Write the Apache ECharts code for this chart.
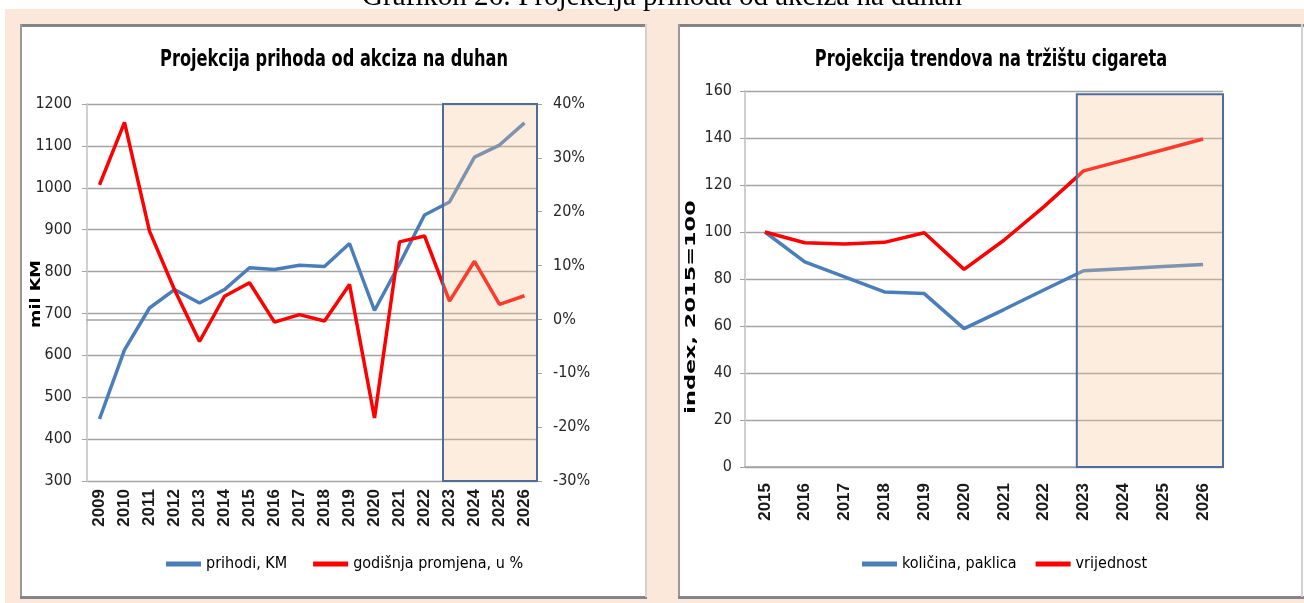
<!DOCTYPE html>
<html><head><meta charset="utf-8">
<script src="https://cdn.jsdelivr.net/npm/echarts@6/dist/echarts.min.js"></script>
<style>html,body{margin:0;padding:0;background:#fff;}#c{width:1304px;height:603px;}</style>
</head><body><div id="c"></div>
<script>
// ---- data ----
const years1 = ['2009','2010','2011','2012','2013','2014','2015','2016','2017','2018','2019','2020','2021','2022','2023','2024','2025','2026'];
const prihodi = [448, 613, 713, 757, 725, 757, 809, 805, 815, 812, 867, 707, 818, 935, 966, 1073, 1102, 1155];
const promjena = [25, 36.6, 16.4, 5.5, -4.1, 4.3, 6.8, -0.5, 0.9, -0.3, 6.5, -18.3, 14.4, 15.5, 3.4, 10.8, 2.8, 4.4];
const years2 = ['2015','2016','2017','2018','2019','2020','2021','2022','2023','2024','2025','2026'];
const kolicina = [100, 87.3, 80.9, 74.5, 73.8, 58.9, 67, 75.3, 83.5, 84.4, 85.3, 86.2];
const vrijednost = [100, 95.4, 94.9, 95.6, 99.7, 84.1, 96.5, 110.7, 126, 130.5, 135, 139.6];
const projectionStart = '2023';
const leftAxis = {min: 300, max: 1200, interval: 100};
const pctAxis = {min: -30, max: 40, interval: 10};
const idxAxis = {min: 0, max: 160, interval: 20};
const names1 = ['prihodi, KM', 'godišnja promjena, u %'];
const names2 = ['količina, paklica', 'vrijednost'];
const title1 = 'Projekcija prihoda od akciza na duhan';
const title2 = 'Projekcija trendova na tržištu cigareta';
const pageTitle = 'Grafikon 26: Projekcija prihoda od akciza na duhan';

// ---- style ----
const FN = "'Liberation Sans Narrow','DejaVu Sans Condensed','Arial Narrow',sans-serif";
const FS = "'Liberation Sans',Arial,sans-serif";
const gridC = '#A3A3A3';
const blue = '#4A7EBB', red = '#FF0000';
const shade = {color: 'rgba(246,196,150,0.3)', borderColor: '#4F6D9B', borderWidth: 2};

const chart = echarts.init(document.getElementById('c'), null, {renderer: 'canvas'});

function catAxis(grid, data, margin) {
  return {type: 'category', gridIndex: grid, data: data, boundaryGap: true,
    axisLine: {lineStyle: {color: gridC, width: 1.5}},
    axisTick: {length: 7, lineStyle: {color: gridC, width: 1.5}},
    axisLabel: {rotate: 90, margin: margin, interval: 0, fontFamily: FS, fontSize: 17, fontWeight: 'bold', color: '#1a1a1a'}};
}
function valAxis(grid, r, pos, margin, suffix) {
  return {type: 'value', gridIndex: grid, position: pos, min: r.min, max: r.max, interval: r.interval,
    axisLine: {show: true, lineStyle: {color: '#CFCFCF', width: 2}},
    axisTick: {show: true, length: 5, lineStyle: {color: gridC}},
    splitLine: {show: pos === 'left', lineStyle: {color: gridC, width: 1.3}},
    axisLabel: {margin: margin, fontFamily: FN, fontSize: 16, color: '#262626',
      formatter: function (v) { return String(v) + (suffix || ''); }}};
}
function lineSeries(name, xi, yi, data, color) {
  return {name: name, type: 'line', xAxisIndex: xi, yAxisIndex: yi, data: data, symbol: 'none',
    lineStyle: {color: color, width: 3.5}, itemStyle: {color: color}, z: 3};
}
function shadeSeries(xi, yi, start, top, bottom) {
  return {type: 'line', xAxisIndex: xi, yAxisIndex: yi, data: [], silent: true, z: 8,
    markArea: {silent: true, z: 8, itemStyle: shade,
      data: [[{xAxis: start, yAxis: bottom}, {xAxis: 'max', yAxis: top}]]}};
}
function titleText(text, x) {
  return {type: 'text', z: 50, x: x, y: 60, scaleY: 1.3,
    style: {text: text, textAlign: 'center', textVerticalAlign: 'middle',
      font: "bold 18px 'DejaVu Sans Condensed', sans-serif", fill: '#000'}};
}

const lg = {fontFamily: FN, fontSize: 16, color: '#000'};
const option = {
  animation: false,
  textStyle: {fontFamily: FN},
  legend: [
    {data: names1, left: 161, top: 551, icon: 'rect', itemWidth: 35, itemHeight: 5, itemGap: 26, textStyle: lg},
    {data: names2, left: 857, top: 551, icon: 'rect', itemWidth: 35, itemHeight: 5, itemGap: 19, textStyle: lg}
  ],
  grid: [
    {left: 87, top: 104, width: 450, height: 377},
    {left: 745, top: 91, width: 478, height: 376}
  ],
  xAxis: [
    catAxis(0, years1, 8),
    {type: 'value', gridIndex: 0, min: 0, max: years1.length, show: false},
    catAxis(1, years2, 16),
    {type: 'value', gridIndex: 1, min: 0, max: years2.length, show: false}
  ],
  yAxis: [
    valAxis(0, leftAxis, 'left', 15),
    valAxis(0, pctAxis, 'right', 16, '%'),
    valAxis(1, idxAxis, 'left', 13)
  ],
  series: [
    lineSeries(names1[0], 0, 0, prihodi, blue),
    lineSeries(names1[1], 0, 1, promjena, red),
    lineSeries(names2[0], 2, 2, kolicina, blue),
    lineSeries(names2[1], 2, 2, vrijednost, red),
    shadeSeries(1, 0, years1.indexOf(projectionStart) + 0.24, leftAxis.max, leftAxis.min),
    shadeSeries(3, 2, years2.indexOf(projectionStart) + 0.33, 158.6, idxAxis.min)
  ],
  graphic: {elements: [
    {type: 'rect', z: -20, shape: {x: 5, y: 9, width: 1299, height: 594}, style: {fill: '#FBE8DA'}},
    {type: 'text', z: -20, style: {text: pageTitle, x: 662, y: -3,
      textAlign: 'center', textVerticalAlign: 'middle', font: '29px "Liberation Serif", "Times New Roman", serif', fill: '#000'}},
    // left panel
    {type: 'rect', z: -19, shape: {x: 20, y: 24, width: 627, height: 573}, style: {fill: '#fff'}},
    {type: 'rect', z: -18, shape: {x: 20, y: 24, width: 627, height: 3}, style: {fill: '#858585'}},
    {type: 'rect', z: -18, shape: {x: 20, y: 24, width: 2, height: 573}, style: {fill: '#999'}},
    {type: 'rect', z: -18, shape: {x: 20, y: 596, width: 627, height: 3}, style: {fill: '#858585'}},
    {type: 'rect', z: -18, shape: {x: 645, y: 24, width: 2, height: 573}, style: {fill: '#D2D2D2'}},
    // right panel
    {type: 'rect', z: -19, shape: {x: 678, y: 24, width: 626, height: 573}, style: {fill: '#fff'}},
    {type: 'rect', z: -18, shape: {x: 678, y: 24, width: 626, height: 3}, style: {fill: '#858585'}},
    {type: 'rect', z: -18, shape: {x: 678, y: 24, width: 2, height: 573}, style: {fill: '#999'}},
    {type: 'rect', z: -18, shape: {x: 678, y: 596, width: 626, height: 3}, style: {fill: '#858585'}},
    {type: 'rect', z: -18, shape: {x: 1301, y: 24, width: 2, height: 573}, style: {fill: '#D2D2D2'}},
    // chart titles
    titleText(title1, 334),
    titleText(title2, 991),
    // axis names
    {type: 'text', z: 50, x: 36, y: 294, rotation: Math.PI / 2, scaleX: 1.26,
      style: {text: 'mil KM', textAlign: 'center', textVerticalAlign: 'middle', font: 'bold 14px "DejaVu Sans", sans-serif', fill: '#000'}},
    {type: 'text', z: 50, x: 691, y: 307, rotation: Math.PI / 2, scaleX: 1.6,
      style: {text: 'index, 2015=100', textAlign: 'center', textVerticalAlign: 'middle', font: 'bold 14px "DejaVu Sans", sans-serif', fill: '#000'}}
  ]}
};
chart.setOption(option);
</script></body></html>
